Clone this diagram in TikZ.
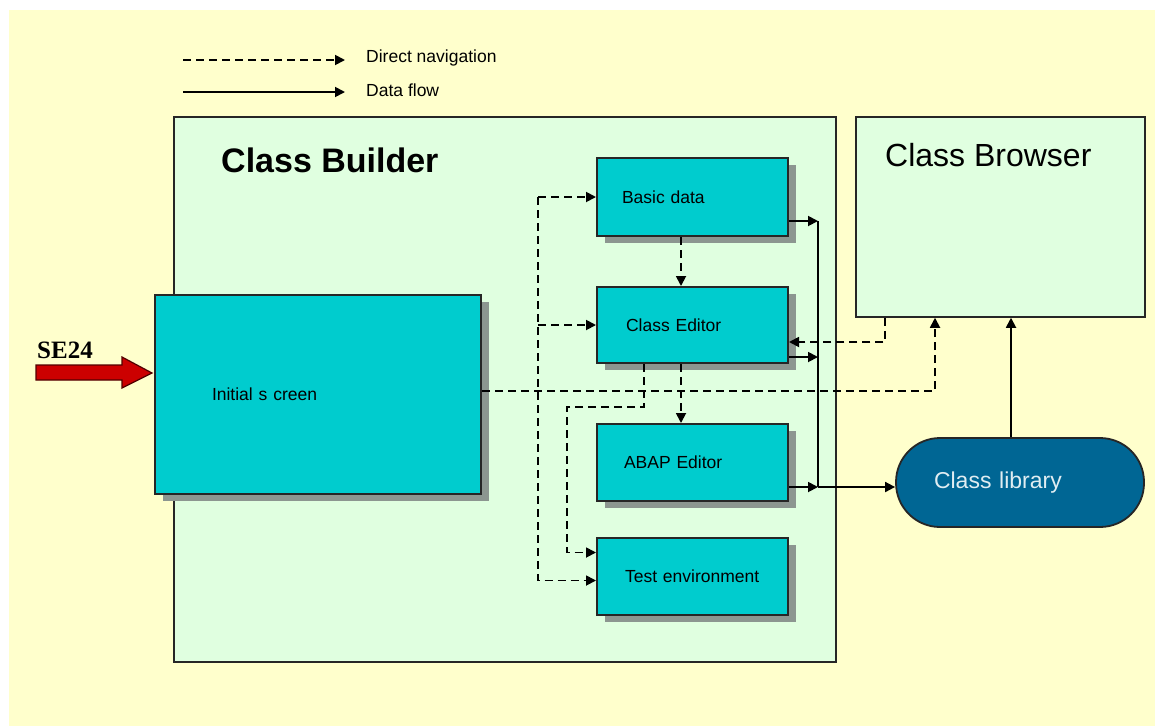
\documentclass[tikz,border=0pt]{standalone}
\usepackage{fontspec}
\setmainfont{Liberation Sans}
\newfontfamily\seriffont{Liberation Serif}
\usetikzlibrary{arrows.meta,shadows}

\definecolor{paper}{RGB}{255,255,204}
\definecolor{panelgreen}{RGB}{224,255,224}
\definecolor{screencyan}{RGB}{0,204,206}
\definecolor{shade}{RGB}{140,150,144}
\definecolor{libblue}{RGB}{0,102,148}
\definecolor{entryred}{RGB}{204,0,0}

\tikzset{
  panel/.style={draw=black!85, line width=1.5pt, fill=panelgreen},
  screen/.style={draw=black!85, line width=2pt, fill=screencyan, align=left,
    drop shadow={shadow xshift=8pt, shadow yshift=-7pt, fill=shade, opacity=1},
    font=\fontsize{17.5}{20}\selectfont},
  nav/.style={line width=1.8pt, dash pattern=on 8pt off 5pt, -{Triangle[length=10pt,width=10pt]}},
  flow/.style={line width=1.8pt, -{Triangle[length=10pt,width=10pt]}},
  txt/.style={inner sep=0pt, anchor=west}
}

\begin{document}
\begin{tikzpicture}[x=1pt, y=-1pt]
  % Page
  \useasboundingbox (0,0) rectangle (1155,726);
  \fill[paper] (9,10) rectangle (1155,726);

  % Legend
  \node[txt, font=\fontsize{17.5}{20}\selectfont] (navtxt) at (366,58) {Direct navigation};
  \node[txt, font=\fontsize{17.5}{20}\selectfont] (flowtxt) at (366,90) {Data flow};
  \coordinate (navstart) at (183,60);
  \coordinate (flowstart) at (183,92);
  \draw[nav, shorten >=21pt] (navstart) -- (navstart -| navtxt.west);
  \draw[flow, shorten >=21pt] (flowstart) -- (flowstart -| flowtxt.west);

  % Frames
  \node[panel, minimum width=662pt, minimum height=545pt] (builder) at (505,389.5) {};
  \node[txt, font=\bfseries\fontsize{34}{40}\selectfont] (buildertitle) at (221,160) {Class Builder};
  \node[panel, minimum width=289pt, minimum height=200pt] (browser) at (1000.5,217) {};
  \node[txt, font=\fontsize{32}{38}\selectfont] (browsertitle) at (885,155) {Class Browser};

  % Screens
  \node[screen, minimum width=326pt, minimum height=199pt, inner xsep=57pt, text width=212pt] (init) at (318,394.5) {Initial s creen};
  \node[screen, minimum width=191pt, minimum height=78pt, inner xsep=25pt, text width=141pt] (basic) at (692.5,197) {Basic data};
  \node[screen, minimum width=191pt, minimum height=76pt, inner xsep=29pt, text width=133pt] (editor) at (692.5,325) {Class Editor};
  \node[screen, minimum width=191pt, minimum height=77pt, inner xsep=27pt, text width=137pt] (abap) at (692.5,462.5) {ABAP Editor};
  \node[screen, minimum width=191pt, minimum height=77pt, inner xsep=28pt, text width=135pt] (testenv) at (692.5,576.5) {Test environment};

  % Class library
  \node[draw=black!85, line width=1.8pt, fill=libblue, rounded corners=44pt,
        minimum width=248pt, minimum height=89pt, inner xsep=38pt, text width=172pt,
        align=left, text=white!88!libblue, font=\fontsize{23}{26}\selectfont] (lib) at (1020,482.5) {Class library};

  % Transaction entry
  \coordinate (tip) at ([xshift=-2pt, yshift=21.5pt]init.west);
  \draw[fill=entryred, draw=black!60!entryred, line width=1.2pt]
    (tip) -- ++(-30,-16) -- ++(0,8) -- ++(-86,0) -- ++(0,15) -- ++(86,0) -- ++(0,8) -- cycle;
  \node[anchor=base west, inner sep=0pt, font=\seriffont\bfseries\fontsize{25}{28}\selectfont] (se24) at (37,358) {SE24};

  % Direct navigation
  \coordinate (bus) at (538,0);
  \coordinate (mid) at (681,0);
  \coordinate (side) at (644,0);
  \coordinate (jog) at (567,407);
  \coordinate (back) at (885,0);
  \coordinate (rise) at (935,0);
  \draw[nav] ([yshift=3.5pt]init.east) -| (browser.south -| rise);
  \draw[nav] (basic.west -| bus) -- (basic.west);
  \draw[nav] (editor.west -| bus) -- (editor.west);
  \draw[nav] (basic.west -| bus) |- ([yshift=-4pt]testenv.west);
  \draw[nav] (basic.south -| mid) -- (editor.north -| mid);
  \draw[nav] (editor.south -| mid) -- (abap.north -| mid);
  \draw[nav] (editor.south -| side) |- (jog) |- ([yshift=24pt]testenv.west);
  \draw[nav] (browser.south -| back) |- ([yshift=-17pt]editor.east);

  % Data flow
  \coordinate (t1) at (818,221);
  \coordinate (t2) at (818,357);
  \coordinate (t3) at (818,487);
  \coordinate (up) at (1011,0);
  \draw[flow] (basic.east |- t1) -- (t1);
  \draw[flow] (editor.east |- t2) -- (t2);
  \draw[flow] (abap.east |- t3) -- (t3);
  \draw[line width=1.8pt] (t1) -- (t3);
  \draw[flow] (t3) -- (lib.west |- t3);
  \draw[flow] (lib.north -| up) -- (browser.south -| up);
\end{tikzpicture}
\end{document}
